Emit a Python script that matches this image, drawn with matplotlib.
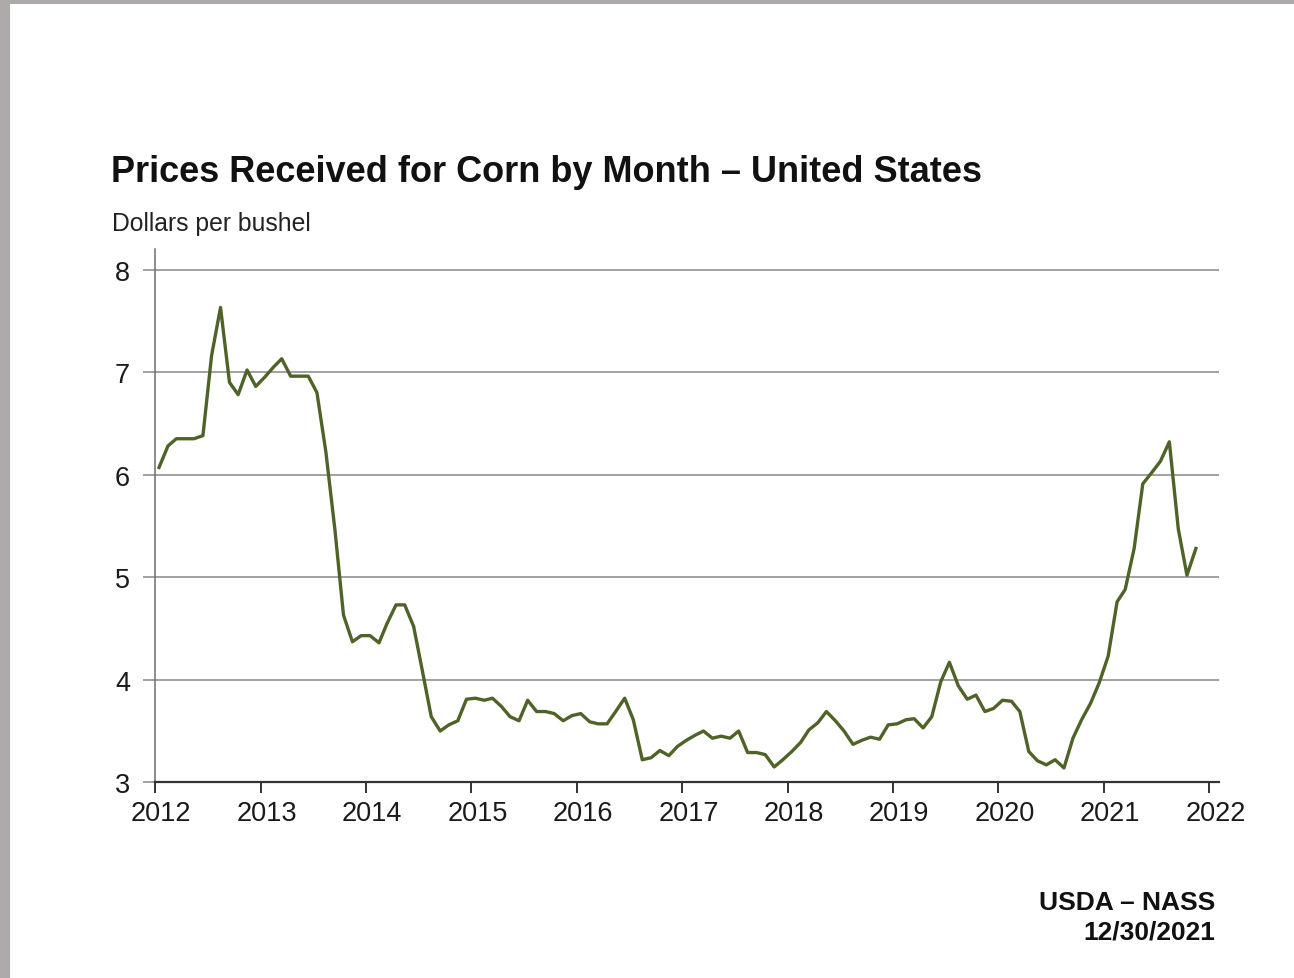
#!/usr/bin/env python3

from datetime import datetime

import numpy as np
import pandas as pd
import matplotlib
matplotlib.use("Agg")
import matplotlib.pyplot as plt
import matplotlib.dates as mdates
import matplotlib.transforms as mtransforms
from matplotlib.patches import Rectangle

# monthly prices received, Jan 2012 .. Nov 2021 ($/bu)
PRICE_2012 = [6.07, 6.28, 6.35, 6.35, 6.35, 6.38, 7.16, 7.63, 6.90, 6.78, 7.02, 6.86]
PRICE_2013 = [6.95, 7.05, 7.13, 6.96, 6.96, 6.96, 6.80, 6.22, 5.47, 4.63, 4.37, 4.43]
PRICE_2014 = [4.43, 4.36, 4.55, 4.73, 4.73, 4.52, 4.09, 3.64, 3.50, 3.56, 3.60, 3.81]
PRICE_2015 = [3.82, 3.80, 3.82, 3.74, 3.64, 3.60, 3.80, 3.69, 3.69, 3.67, 3.60, 3.65]
PRICE_2016 = [3.67, 3.59, 3.57, 3.57, 3.69, 3.82, 3.61, 3.22, 3.24, 3.31, 3.26, 3.35]
PRICE_2017 = [3.41, 3.46, 3.50, 3.43, 3.45, 3.43, 3.50, 3.29, 3.29, 3.27, 3.15, 3.22]
PRICE_2018 = [3.30, 3.39, 3.51, 3.58, 3.69, 3.60, 3.50, 3.37, 3.41, 3.44, 3.42, 3.56]
PRICE_2019 = [3.57, 3.61, 3.62, 3.53, 3.64, 3.98, 4.17, 3.94, 3.81, 3.85, 3.69, 3.72]
PRICE_2020 = [3.80, 3.79, 3.69, 3.30, 3.21, 3.17, 3.22, 3.14, 3.43, 3.61, 3.77, 3.97]
PRICE_2021 = [4.23, 4.76, 4.88, 5.28, 5.91, 6.02, 6.13, 6.32, 5.47, 5.02, 5.28]

price = np.array(PRICE_2012 + PRICE_2013 + PRICE_2014 + PRICE_2015 + PRICE_2016
                 + PRICE_2017 + PRICE_2018 + PRICE_2019 + PRICE_2020 + PRICE_2021)
# points sit mid-month
months = pd.date_range("2012-01-01", periods=len(price), freq="MS") + pd.Timedelta(days=14)

YEAR_TICKS = [datetime(y, 1, 1) for y in range(2012, 2023)]
Y_TICKS = [3, 4, 5, 6, 7, 8]

TITLE = "Prices Received for Corn by Month \u2013 United States"
UNITS = "Dollars per bushel"
SOURCE = "USDA \u2013 NASS\n12/30/2021"

LINE_COLOR = "#4F6228"
GRID_COLOR = "#9a9a9a"

plt.rcParams.update({
    "font.family": ["Liberation Sans", "DejaVu Sans"],
})

W, H = 1294, 979
fig = plt.figure(figsize=(W / 100, H / 100), dpi=100)
fig.patch.set_facecolor("white")

# grey frame on the top and left edges of the screenshot
fig.add_artist(Rectangle((0, 1 - 5 / H), 1, 5 / H, transform=fig.transFigure,
                         color="#aeaaaa", lw=0, zorder=10))
fig.add_artist(Rectangle((0, 0), 10 / W, 1, transform=fig.transFigure,
                         color="#aeaaaa", lw=0, zorder=10))

ax = fig.add_axes([155 / W, 1 - 783.3 / H, (1219 - 155) / W, (783.3 - 250) / H])

ax.plot(months, price, color=LINE_COLOR, lw=2.4, solid_joinstyle="round", zorder=3)

ax.set_xlim(datetime(2012, 1, 1), datetime(2022, 2, 3))
ax.set_ylim(3, 8.2)
ax.set_xticks(YEAR_TICKS)
ax.xaxis.set_major_formatter(mdates.DateFormatter("%Y"))
ax.set_yticks(Y_TICKS)

ax.grid(axis="y", color=GRID_COLOR, lw=1.3, zorder=1)
ax.set_axisbelow(True)

for side in ("top", "right"):
    ax.spines[side].set_visible(False)
ax.spines["left"].set_color("#6e6e6e")
ax.spines["left"].set_linewidth(1.1)
ax.spines["bottom"].set_color("#333333")
ax.spines["bottom"].set_linewidth(1.6)

ax.tick_params(axis="x", direction="out", length=8, width=1.4, color="#333333",
               labelsize=19.5, pad=5, labelcolor="#1a1a1a")
ax.tick_params(axis="y", direction="out", length=9, width=1.3, color=GRID_COLOR,
               labelsize=19.5, pad=9, labelcolor="#1a1a1a")

# year labels sit a little right of their ticks in the original
shift = mtransforms.ScaledTranslation(6 / 100, 0, fig.dpi_scale_trans)
for lbl in ax.get_xticklabels():
    lbl.set_transform(lbl.get_transform() + shift)

fig.text(111 / W, 1 - 182 / H, TITLE, fontsize=26, fontweight="bold",
         ha="left", va="baseline", color="#111111")
fig.text(112 / W, 1 - 231.5 / H, UNITS, fontsize=17.8,
         ha="left", va="baseline", color="#222222")
fig.text(1215 / W, 1 - 940 / H, SOURCE, fontsize=19, fontweight="bold",
         ha="right", va="baseline", color="#111111", linespacing=1.32,
         multialignment="right")

fig.savefig("out.png", dpi=100, facecolor="white")
